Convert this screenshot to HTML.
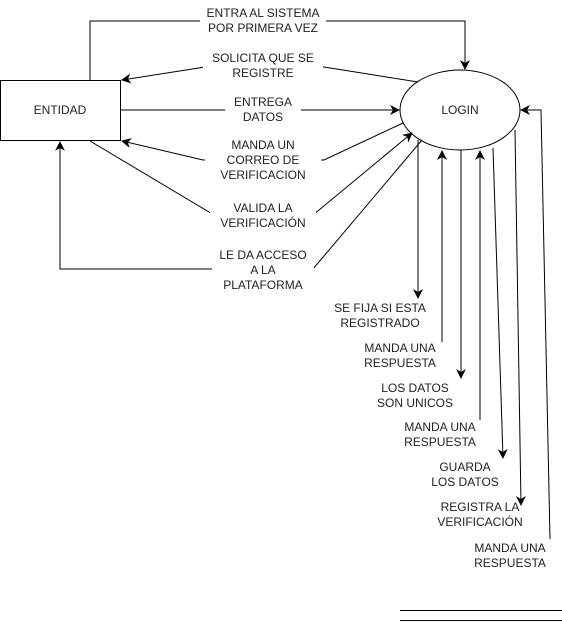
<!DOCTYPE html>
<html><head><meta charset="utf-8"><style>
html,body{margin:0;padding:0;background:#fff;}
svg{display:block;}
text{font-family:"Liberation Sans",Arial,sans-serif;font-size:12px;fill:#222;text-anchor:middle;}
</style></head><body>
<svg width="562" height="622" viewBox="0 0 562 622" xmlns="http://www.w3.org/2000/svg">
<defs>
<marker id="a" markerWidth="10" markerHeight="10" refX="9" refY="5" orient="auto" markerUnits="userSpaceOnUse">
<path d="M0,0 L10,5 L0,10 L3,5 Z" fill="#000"/>
</marker>
</defs>
<g stroke="#000" stroke-width="1" fill="none">
<rect x="0.5" y="80.5" width="120" height="60" fill="#fff"/>
<ellipse cx="460" cy="110" rx="60" ry="40" fill="#fff"/>
<polyline points="90,80 90,21 465,21 465,69" marker-end="url(#a)"/>
<polyline points="418,82 324,67 205,67 122,80" marker-end="url(#a)"/>
<line x1="121" y1="110" x2="399" y2="110" marker-end="url(#a)"/>
<polyline points="403,123 324,160 203,160 122,141" marker-end="url(#a)"/>
<polyline points="90,141 214,215 313,215 412,133" marker-end="url(#a)"/>
<polyline points="422,140 313,269 60,269 60,142" marker-end="url(#a)"/>
<line x1="418" y1="140" x2="418" y2="298" marker-end="url(#a)"/>
<line x1="442" y1="342" x2="442" y2="151" marker-end="url(#a)"/>
<line x1="461" y1="150" x2="461" y2="378" marker-end="url(#a)"/>
<line x1="480" y1="420" x2="480" y2="151" marker-end="url(#a)"/>
<line x1="493" y1="148" x2="503" y2="458" marker-end="url(#a)"/>
<line x1="515" y1="130" x2="521" y2="505" marker-end="url(#a)"/>
<polyline points="550,539 541,110 521,110" marker-end="url(#a)"/>
<line x1="400" y1="610.5" x2="562" y2="610.5"/>
<line x1="400" y1="620.5" x2="562" y2="620.5"/>
</g>
<g fill="#fff">
<rect x="200" y="5" width="126" height="30"/>
<rect x="203" y="50" width="120" height="30"/>
<rect x="225" y="94" width="76" height="30"/>
<rect x="205" y="137" width="116" height="45"/>
<rect x="210" y="200" width="106" height="30"/>
<rect x="212" y="246" width="102" height="45"/>
</g>
<text x="60" y="114">ENTIDAD</text>
<text x="460" y="114">LOGIN</text>
<text x="263" y="17">ENTRA AL SISTEMA</text>
<text x="263" y="32">POR PRIMERA VEZ</text>
<text x="263" y="62">SOLICITA QUE SE</text>
<text x="263" y="77">REGISTRE</text>
<text x="263" y="106">ENTREGA</text>
<text x="263" y="121">DATOS</text>
<text x="263" y="149">MANDA UN</text>
<text x="263" y="164">CORREO DE</text>
<text x="263" y="179">VERIFICACION</text>
<text x="263" y="212">VALIDA LA</text>
<text x="263" y="227">VERIFICACIÓN</text>
<text x="263" y="259">LE DA ACCESO</text>
<text x="263" y="274">A LA</text>
<text x="263" y="289">PLATAFORMA</text>
<text x="380" y="312">SE FIJA SI ESTA</text>
<text x="380" y="327">REGISTRADO</text>
<text x="400" y="352">MANDA UNA</text>
<text x="400" y="367">RESPUESTA</text>
<text x="415" y="392">LOS DATOS</text>
<text x="415" y="407">SON UNICOS</text>
<text x="440" y="431">MANDA UNA</text>
<text x="440" y="446">RESPUESTA</text>
<text x="465" y="471">GUARDA</text>
<text x="465" y="486">LOS DATOS</text>
<text x="480" y="511">REGISTRA LA</text>
<text x="480" y="526">VERIFICACIÓN</text>
<text x="510" y="552">MANDA UNA</text>
<text x="510" y="567">RESPUESTA</text>
</svg>
</body></html>
